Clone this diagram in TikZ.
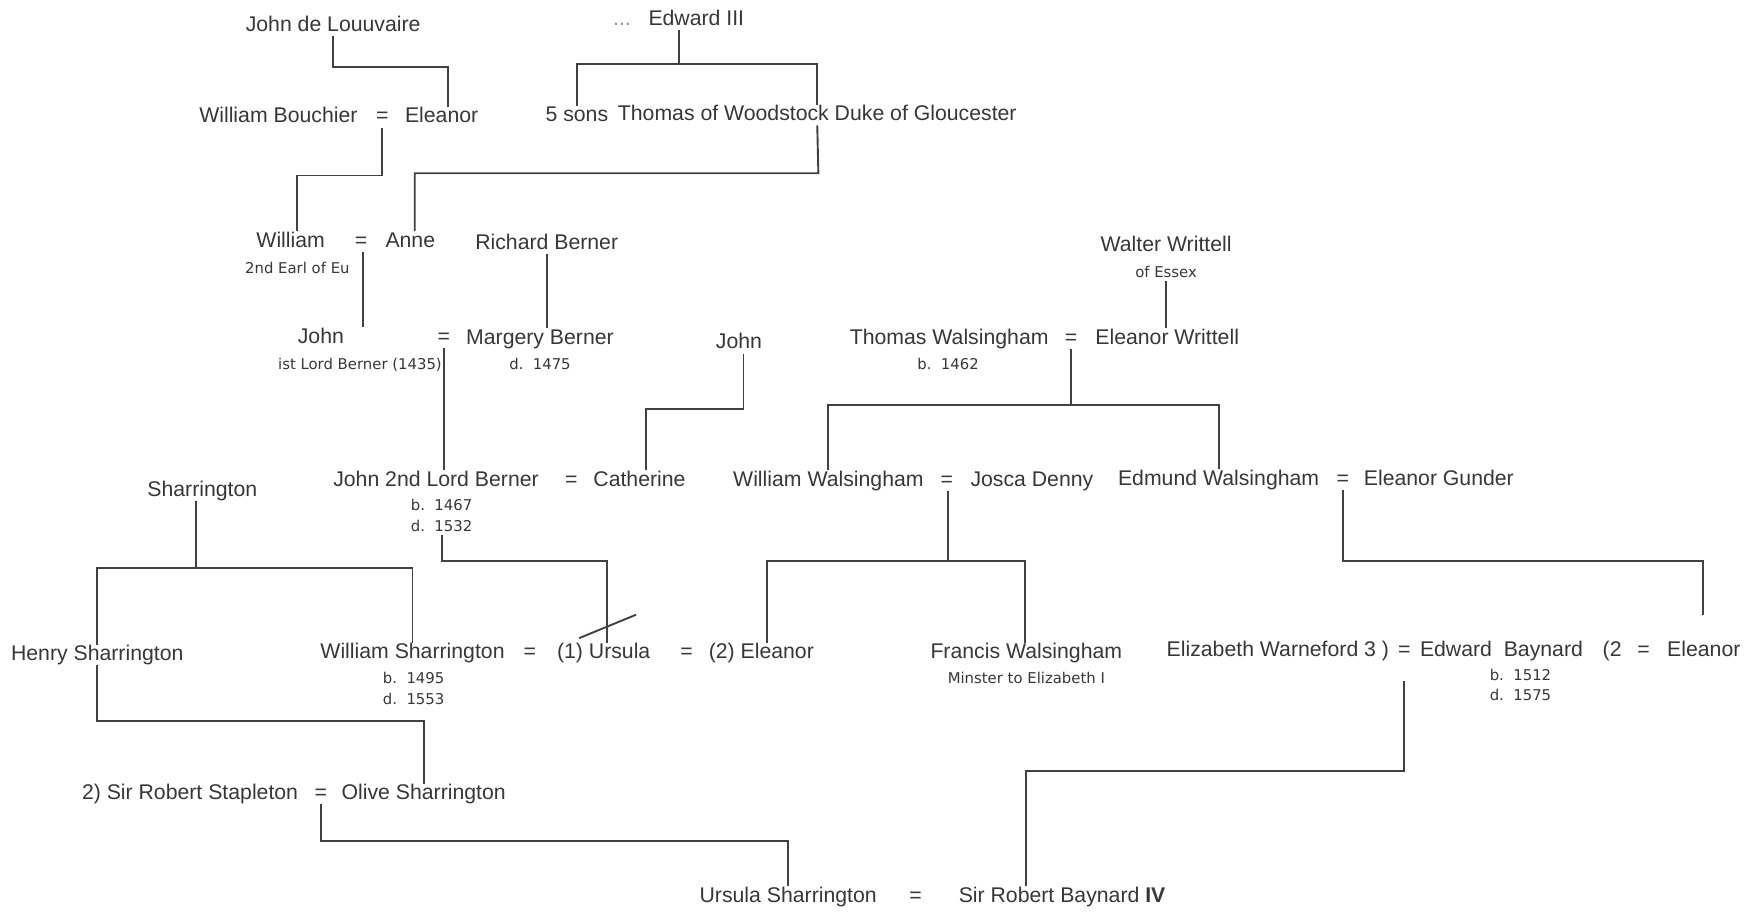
\documentclass[tikz,border=0pt]{standalone}
\usepackage{fontspec}
\setmainfont{Liberation Sans}
\newfontfamily\smallf{DejaVu Sans}
\usetikzlibrary{calc}
\definecolor{txt}{RGB}{55,55,55}
\definecolor{dots}{RGB}{150,150,150}
\definecolor{ln}{RGB}{65,65,65}
\tikzset{
 pers/.style={inner sep=0pt, text height=14pt, text depth=4pt, yshift=-2pt, font=\fontsize{19}{22}\selectfont, text=txt},
 note/.style={inner sep=0pt, text height=10pt, text depth=3pt, yshift=-1pt, font=\smallf\fontsize{13.3}{15}\selectfont, text=txt},
 link/.style={draw=ln, line width=1.7pt},
}
\begin{document}
\begin{tikzpicture}[x=1pt,y=-1pt]
\fill[white] (0,0) rectangle (1568,815);
\useasboundingbox (0,0) rectangle (1568,815);

% row 0
\node[pers] (jdl) at (298,21) {John de Louuvaire};
\node[pers] (e3) at (607,16) {\textcolor{dots}{...}\ \ \ Edward III};
% row 1
\node[pers] (wb) at (249,103) {William Bouchier};
\node[pers] (eq1) at (342,103) {=};
\node[pers] (el1) at (395,103) {Eleanor};
\node[pers] (sons) at (516,102) {5 sons};
\node[pers] (twd) at (731,101) {Thomas of Woodstock Duke of Gloucester};
% row 2
\node[pers] (wil) at (260,214) {William};
\node[pers] (eq2) at (323,214) {=};
\node[pers] (anne) at (367,214) {Anne};
\node[note] (earl) at (266,240) {2nd Earl of Eu};
\node[pers] (rb) at (489,216) {Richard Berner};
\node[pers] (ww) at (1043,218) {Walter Writtell};
\node[note] (essex) at (1043,244) {of Essex};
% row 3
\node[pers] (john1) at (287,300) {John};
\node[pers] (eq3) at (397,300) {=};
\node[pers] (mb) at (483,301) {Margery Berner};
\node[note] (lord1) at (322,326) {ist Lord Berner (1435)};
\node[note] (mbd) at (483,326) {d.\ \ 1475};
\node[pers] (john2) at (661,305) {John};
\node[pers] (tw) at (849,301) {Thomas Walsingham};
\node[pers] (eq4) at (958,301) {=};
\node[pers] (ewr) at (1044,301) {Eleanor Writtell};
\node[note] (twb) at (848,326) {b.\ \ 1462};
% row 4
\node[pers] (shar) at (181,437) {Sharrington};
\node[pers] (jlb) at (390,428) {John 2nd Lord Berner};
\node[pers] (eq5) at (511,428) {=};
\node[pers] (cath) at (572,428) {Catherine};
\node[note] (jlbb) at (395,452) {b.\ \ 1467};
\node[note] (jlbd) at (395,471) {d.\ \ 1532};
\node[pers] (wwal) at (741,428) {William Walsingham};
\node[pers] (eq6) at (847,428) {=};
\node[pers] (jd) at (923,428) {Josca Denny};
\node[pers] (edw) at (1090,427) {Edmund Walsingham};
\node[pers] (eq7) at (1201,427) {=};
\node[pers] (eg) at (1287,427) {Eleanor Gunder};
% row 5
\node[pers] (hs) at (87,584) {Henry Sharrington};
\node[pers] (wsh) at (369,582) {William Sharrington};
\node[pers] (eq8) at (474,582) {=};
\node[pers] (urs) at (540,582) {(1) Ursula};
\node[pers] (eq9) at (614,582) {=};
\node[pers] (el2) at (681,582) {(2) Eleanor};
\node[note] (wshb) at (370,607) {b.\ \ 1495};
\node[note] (wshd) at (370,626) {d.\ \ 1553};
\node[pers] (fw) at (918,582) {Francis Walsingham};
\node[note] (mins) at (918,607) {Minster to Elizabeth I};
\node[pers] (ewf) at (1143,580) {Elizabeth Warneford 3 )};
\node[pers] (eq10) at (1256,580) {=};
\node[pers] (eb) at (1343,580) {Edward\ \ Baynard};
\node[pers] (two) at (1442,580) {(2};
\node[pers] (eq11) at (1470,580) {=};
\node[pers] (el3) at (1524,580) {Eleanor};
\node[note] (ebb) at (1360,604) {b.\ \ 1512};
\node[note] (ebd) at (1360,622) {d.\ \ 1575};
% row 6
\node[pers] (rs) at (170,708) {2) Sir Robert Stapleton};
\node[pers] (eq12) at (287,708) {=};
\node[pers] (os) at (379,708) {Olive Sharrington};
% row 7
\node[pers] (us) at (705,800) {Ursula Sharrington};
\node[pers] (eq13) at (819,800) {=};
\node[pers] (srb) at (950,800) {Sir Robert Baynard \textbf{IV}};

% bar coordinates
\coordinate (b1) at (401,60);
\coordinate (b2) at (607,57);
\coordinate (b3) at (732,155);
\coordinate (b4) at (266,157);
\coordinate (b8) at (665,366);
\coordinate (b10) at (958,362);
\coordinate (b11) at (175,508);
\coordinate (b12) at (543,502);
\coordinate (b13l) at (686,502);
\coordinate (b13m) at (848,502);
\coordinate (b13r) at (917,502);
\coordinate (b14) at (1523,502);
\coordinate (b15) at (87,645);
\coordinate (b16) at (287,752);
\coordinate (b17) at (918,690);

% connectors
\draw[link] (jdl.south) |- (b1) -- (b1 |- el1.north);
\draw[link] (e3.south) -- (b2);
\draw[link] (sons.north) |- (b2) -| (twd.north);
\draw[link] (twd.south) -- (b3) -| ($(anne.north)+(4,0)$);
\draw[link] (eq1.south) |- (b4) -- (b4 |- wil.north);
\draw[link] ($(eq2.south)+(2,0)$) -- ($(eq2.south |- john1.north)+(2,0)$);
\draw[link] (rb.south) -- (rb.south |- mb.north);
\draw[link] (eq3.south) -- (eq3.south |- jlb.north);
\draw[link] ($(john2.south)+(4,0)$) -- (b8) -| ($(cath.north)+(6,0)$);
\draw[link] (essex.south) -- (essex.south |- ewr.north);
\draw[link] (eq4.south) -- (b10);
\draw[link] (wwal.north) |- (b10) -| (edw.north);
\draw[link] (shar.south -| b11) -- (b11);
\draw[link] (hs.north) |- (b11) -| (wsh.north);
\draw[link] (jlbd.south) |- (b12) -- (b12 |- urs.north);
\draw[link] ($(urs.north)+(-22,-4)$) -- ($(urs.north)+(29,-25)$);
\draw[link] ($(eq6.south)+(1,0)$) -- (b13m);
\draw[link] (b13l |- el2.north) -- (b13l) -- (b13r) -- (b13r |- fw.north);
\draw[link] (eq7.south) |- (b14) -- ++(0,48);
\draw[link] (hs.south) -- (b15) -| (os.north);
\draw[link] (eq12.south) -- (b16) -| (us.north);
\draw[link] ($(eq10.south)+(0,18)$) |- (b17) -- (b17 |- srb.north);
\end{tikzpicture}
\end{document}
